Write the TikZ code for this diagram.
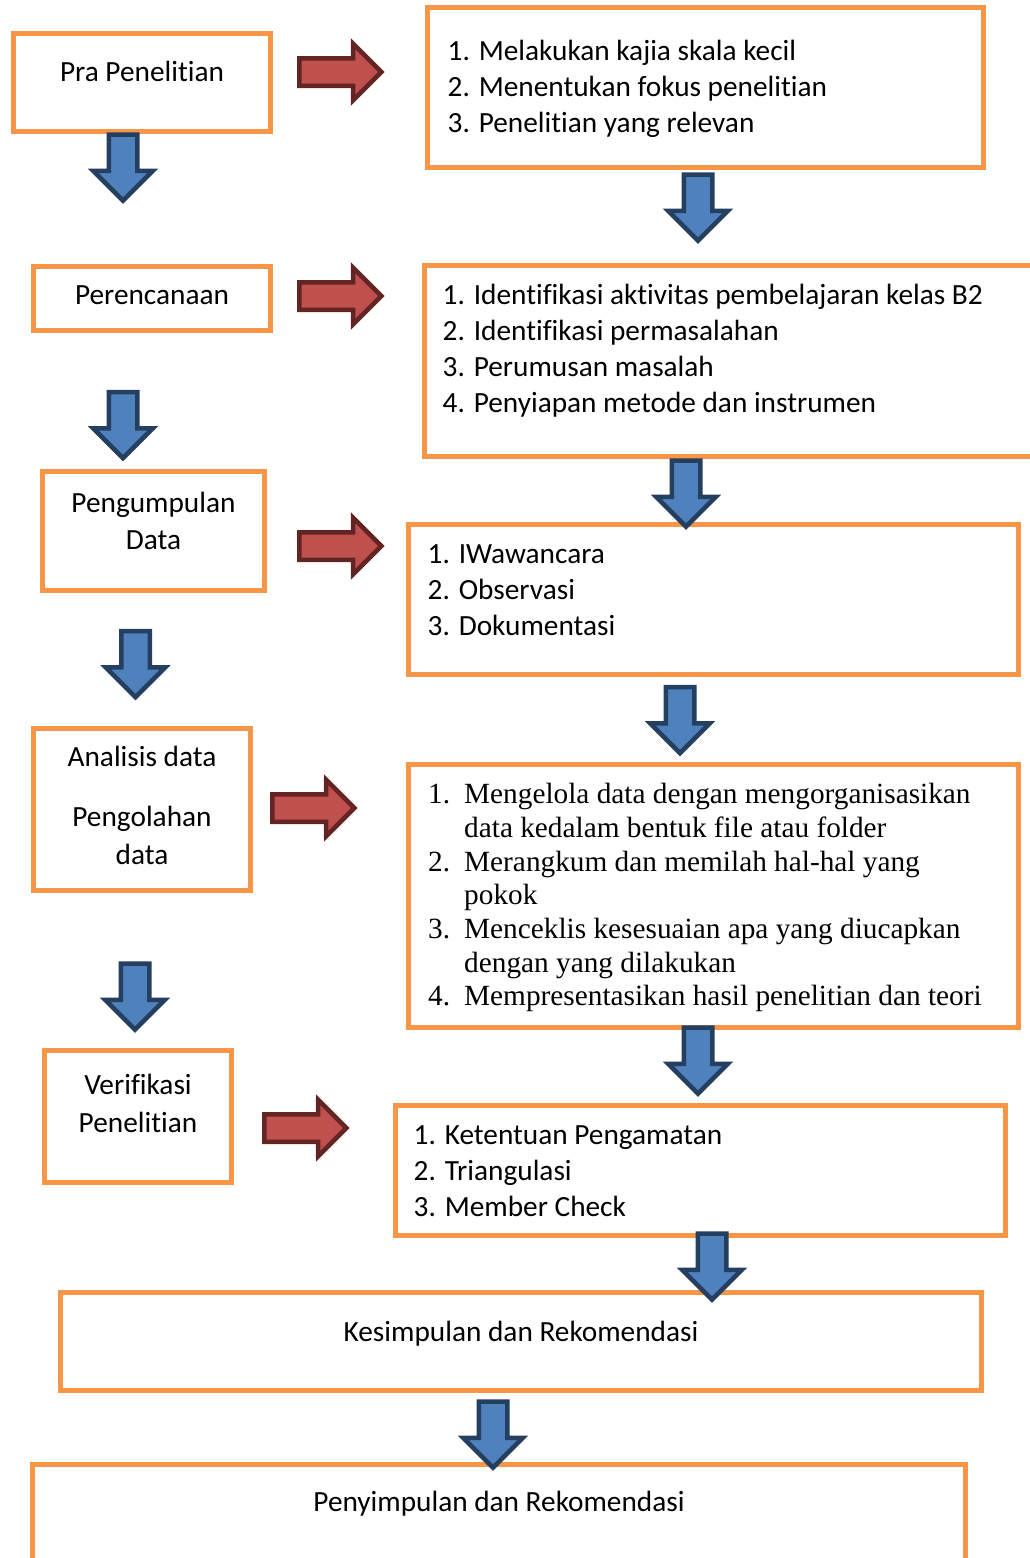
\documentclass[tikz,border=0pt]{standalone}
\usepackage{fontspec}
\setmainfont{Carlito}[Ligatures=NoCommon]
\newfontfamily\timesfont{Liberation Serif}[Ligatures=NoCommon]
\usetikzlibrary{shapes.arrows}
\usetikzlibrary{positioning}

\definecolor{boxorange}{HTML}{F79646}
\definecolor{redfill}{HTML}{C0504D}
\definecolor{redline}{HTML}{632523}
\definecolor{bluefill}{HTML}{4F81BD}
\definecolor{blueline}{HTML}{243F60}
\newcommand{\topstrut}{\rule{0pt}{22pt}}

\begin{document}
\begin{tikzpicture}[x=1pt,y=-1pt,
  box/.style={draw=boxorange,line width=5pt,inner sep=0pt},
  boxtext/.style={font=\fontsize{29.3}{37.5}\selectfont,align=center,inner sep=0pt},
  listtext/.style={font=\fontsize{29.3}{36}\selectfont,align=left,inner sep=0pt},
  timeslist/.style={font=\timesfont\fontsize{29.3}{33.7}\selectfont,align=left,inner sep=0pt},
  rarrow/.style={single arrow,draw=redline,fill=redfill,line width=4.5pt,inner xsep=0pt,inner ysep=11.5pt,
    minimum height=82pt,minimum width=52pt,single arrow head extend=14.5pt},
  darrow/.style={single arrow,rotate=-90,draw=blueline,fill=bluefill,line width=4.5pt,inner xsep=0pt,inner ysep=12pt,
    minimum height=66pt,minimum width=55pt,single arrow head extend=15.5pt}]

  \useasboundingbox (0,0) rectangle (1030,1558);
  \clip (0,0) rectangle (1030,1558);

  \node[box,minimum width=257pt,minimum height=98pt]  (pra) at (142,82.5)    {};
  \node[box,minimum width=237pt,minimum height=64pt]  (per) at (152,298.5)   {};
  \node[box,minimum width=222pt,minimum height=119pt] (pen) at (153.5,531)   {};
  \node[box,minimum width=217pt,minimum height=162pt] (ana) at (142,809.5)   {};
  \node[box,minimum width=187pt,minimum height=132pt] (ver) at (138,1116.5)  {};

  \node[box,minimum width=556pt,minimum height=160pt] (pra-list) at (705.5,87.5)  {};
  \node[box,minimum width=618pt,minimum height=191pt] (per-list) at (733.5,361)   {};
  \node[box,minimum width=610pt,minimum height=150pt] (pen-list) at (713.5,599.5) {};
  \node[box,minimum width=610pt,minimum height=263pt] (ana-list) at (713.5,896)   {};
  \node[box,minimum width=610pt,minimum height=130pt] (ver-list) at (700.5,1170.5){};

  \node[box,minimum width=921pt,minimum height=98pt]  (kes) at (521,1341.5)  {};
  \node[box,minimum width=933pt,minimum height=108pt] (peny) at (499,1518.5) {};

  \node[boxtext] (pra-txt) [below=28.5pt of pra.north] {\topstrut Pra Penelitian};
  \node[boxtext] (per-txt) [below=18pt of per.north]   {\topstrut Perencanaan};
  \node[boxtext] (pen-txt) [below=21pt of pen.north]   {\topstrut Pengumpulan\\ Data};
  \node[boxtext] (ana-txt) [below=18pt of ana.north]   {\topstrut Analisis data\\[23pt] Pengolahan\\ data};
  \node[boxtext] (ver-txt) [below=24.5pt of ver.north] {\topstrut Verifikasi\\ Penelitian};
  \node[boxtext] (kes-txt) [below=29pt of kes.north]   {\topstrut Kesimpulan dan Rekomendasi};
  \node[boxtext] (peny-txt) [below=27pt of peny.north] {\topstrut Penyimpulan dan Rekomendasi};

  \node[listtext] (pra-items) [below right=33pt and 22.5pt of pra-list.north west]
    {\topstrut 1. Melakukan kajia skala kecil\\ 2. Menentukan fokus penelitian\\ 3. Penelitian yang relevan};
  \node[listtext] (per-items) [below right=19pt and 20.5pt of per-list.north west]
    {\topstrut 1. Identifikasi aktivitas pembelajaran kelas B2\\ 2. Identifikasi permasalahan\\
     3. Perumusan masalah\\ 4. Penyiapan metode dan instrumen};
  \node[listtext] (pen-items) [below right=19pt and 21.5pt of pen-list.north west]
    {\topstrut 1. IWawancara\\ 2. Observasi\\ 3. Dokumentasi};
  \node[timeslist] (ana-items) [below right=19.5pt and 22pt of ana-list.north west]
    {\topstrut\makebox[36pt][l]{1.}Mengelola data dengan mengorganisasikan\\
     \hspace*{36pt}data kedalam bentuk file atau folder\\
     \makebox[36pt][l]{2.}Merangkum dan memilah hal-hal yang\\
     \hspace*{36pt}pokok\\
     \makebox[36pt][l]{3.}Menceklis kesesuaian apa yang diucapkan\\
     \hspace*{36pt}dengan yang dilakukan\\
     \makebox[36pt][l]{4.}Mempresentasikan hasil penelitian dan teori};
  \node[listtext] (ver-items) [below right=19pt and 20.5pt of ver-list.north west]
    {\topstrut 1. Ketentuan Pengamatan\\ 2. Triangulasi\\ 3. Member Check};

  \node[rarrow] (pra-go) at (333.5,72)   {};
  \node[rarrow] (per-go) at (333.5,296)  {};
  \node[rarrow] (pen-go) at (333.5,546)  {};
  \node[rarrow] (ana-go) at (306.5,808)  {};
  \node[rarrow] (ver-go) at (298.5,1128) {};

  \node[darrow] (pra-down)  at (123,160.5)   {};
  \node[darrow] (list1-down) at (698,200.5)  {};
  \node[darrow] (per-down)  at (123,418)     {};
  \node[darrow] (list2-down) at (686,486.5)  {};
  \node[darrow] (pen-down)  at (135.5,657)   {};
  \node[darrow] (list3-down) at (680,713)    {};
  \node[darrow] (ana-down)  at (135,989.5)   {};
  \node[darrow] (list4-down) at (698,1053.5) {};
  \node[darrow] (list5-down) at (712,1259.5) {};
  \node[darrow] (kes-down)  at (493,1427.5)  {};
\end{tikzpicture}
\end{document}
